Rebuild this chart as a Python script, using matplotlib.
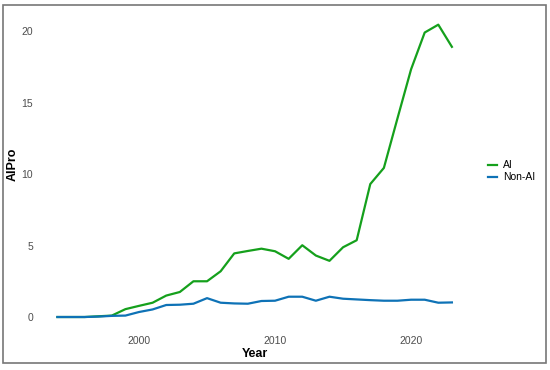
"""AIPro over time: AI vs non-AI."""

import matplotlib

matplotlib.use("Agg")
import matplotlib.pyplot as plt
from matplotlib.patches import Rectangle

years = list(range(1994, 2024))
ai = [0, 0, 0, 0.05, 0.1, 0.55, 0.78, 1.0, 1.5, 1.75, 2.5, 2.5, 3.2, 4.45,
      4.62, 4.78, 4.6, 4.07, 5.02, 4.3, 3.93, 4.88, 5.37, 9.3, 10.43, 13.9,
      17.33, 19.9, 20.45, 18.9]
non_ai = [0, 0, 0, 0.03, 0.08, 0.1, 0.35, 0.53, 0.84, 0.86, 0.93, 1.32, 1.0,
          0.95, 0.93, 1.12, 1.14, 1.42, 1.42, 1.14, 1.42, 1.28, 1.23, 1.18,
          1.14, 1.14, 1.21, 1.21, 1.0, 1.02]
y_ticks = [0, 5, 10, 15, 20]
x_ticks = [2000, 2010, 2020]

GREEN = "#15a01c"
BLUE = "#0e72b6"

plt.rcParams["font.family"] = ["Liberation Sans", "DejaVu Sans"]

fig = plt.figure(figsize=(5.5, 3.7), dpi=100)
ax = fig.add_axes([0.0685, 0.1038, 0.789, 0.867])

ax.plot(years, ai, color=GREEN, lw=1.6, label="AI", solid_joinstyle="round")
ax.plot(years, non_ai, color=BLUE, lw=1.6, label="Non-AI", solid_joinstyle="round")

ax.set_xlim(1992.55, 2024.45)
ax.set_ylim(-1.02, 21.42)
ax.set_xticks(x_ticks)
ax.set_yticks(y_ticks)
ax.tick_params(length=0, labelsize=7.5, labelcolor="#4d4d4d", pad=3.3)
for s in ax.spines.values():
    s.set_visible(False)

ax.set_xlabel("Year", fontsize=9, fontweight="bold", labelpad=1)
ax.set_ylabel("AIPro", fontsize=9, fontweight="bold", va="center")
ax.yaxis.set_label_coords(-0.057, 0.52)

ax.legend(loc="center left", bbox_to_anchor=(1.038, 0.5), frameon=False,
          fontsize=7.5, handlelength=0.85, handletextpad=0.55, labelspacing=0.2,
          borderpad=0, borderaxespad=0)

fig.add_artist(Rectangle((0.0055, 0.019), 0.987, 0.9675, transform=fig.transFigure,
                         fill=False, edgecolor="#777777", lw=1.2))

fig.savefig("out.png", dpi=100)
